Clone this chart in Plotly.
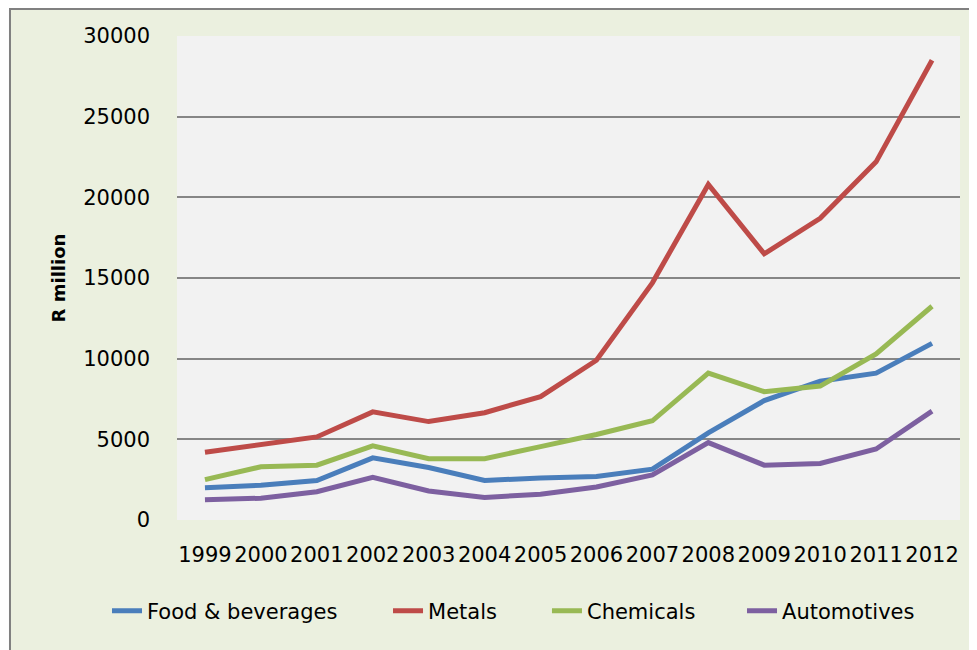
import plotly.graph_objects as go

years = [str(y) for y in range(1999, 2013)]
food = [2000, 2150, 2450, 3850, 3250, 2450, 2600, 2700, 3150, 5400, 7400, 8600, 9100, 10950]
metals = [4200, 4650, 5150, 6700, 6100, 6650, 7650, 9900, 14700, 20800, 16500, 18700, 22200, 28500]
chemicals = [2500, 3300, 3400, 4600, 3800, 3800, 4550, 5300, 6150, 9100, 7950, 8300, 10300, 13250]
auto = [1250, 1350, 1750, 2650, 1800, 1400, 1600, 2050, 2800, 4800, 3400, 3500, 4400, 6750]

series_names = ["Food & beverages", "Metals", "Chemicals", "Automotives"]
series_values = [food, metals, chemicals, auto]
series_colors = ["#4A7EBB", "#BE4B48", "#98B954", "#7D60A0"]
legend_ids = ["legend", "legend2", "legend3", "legend4"]
legend_x = [-0.0894, 0.2695, 0.4725, 0.7216]

FONT = "DejaVu Sans"
fig = go.Figure()
for name, vals, col, lid in zip(series_names, series_values, series_colors, legend_ids):
    fig.add_trace(go.Scatter(x=years, y=vals, name=name, mode="lines", legend=lid,
                             line=dict(color=col, width=5)))

legend_common = dict(orientation="h", xanchor="left", y=-0.188, yanchor="middle",
                     font=dict(family=FONT, size=21), bgcolor="rgba(0,0,0,0)")
legends = {lid: dict(x=lx, **legend_common) for lid, lx in zip(legend_ids, legend_x)}

fig.update_layout(
    width=977, height=650,
    margin=dict(l=169, r=25, t=28, b=138),
    paper_bgcolor="white",
    plot_bgcolor="rgba(0,0,0,0)",
    font=dict(family=FONT, size=21, color="black"),
    showlegend=True,
    xaxis=dict(type="category", showgrid=False, showline=False, zeroline=False,
               ticks="", tickfont=dict(size=21), ticklabelstandoff=20,
               range=[-0.5, 13.5]),
    yaxis=dict(range=[0, 30000], dtick=5000, tickformat="d", showgrid=True,
               gridcolor="#868686", gridwidth=1.5, zeroline=False, showline=False,
               ticks="", tickfont=dict(size=21), ticklabelstandoff=26,
               title=dict(text="<b>R million</b>", font=dict(size=18), standoff=12)),
    shapes=[
        dict(type="rect", xref="paper", yref="paper", x0=-0.2133, x1=1.1, y0=-0.5, y1=1.056,
             fillcolor="#EBF0DF", line=dict(color="#808080", width=2), layer="below"),
        dict(type="rect", xref="paper", yref="paper", x0=0, x1=1, y0=0, y1=1,
             fillcolor="#F2F2F2", line=dict(width=0), layer="below"),
    ],
    **legends,
)
fig.write_html("out.html")
